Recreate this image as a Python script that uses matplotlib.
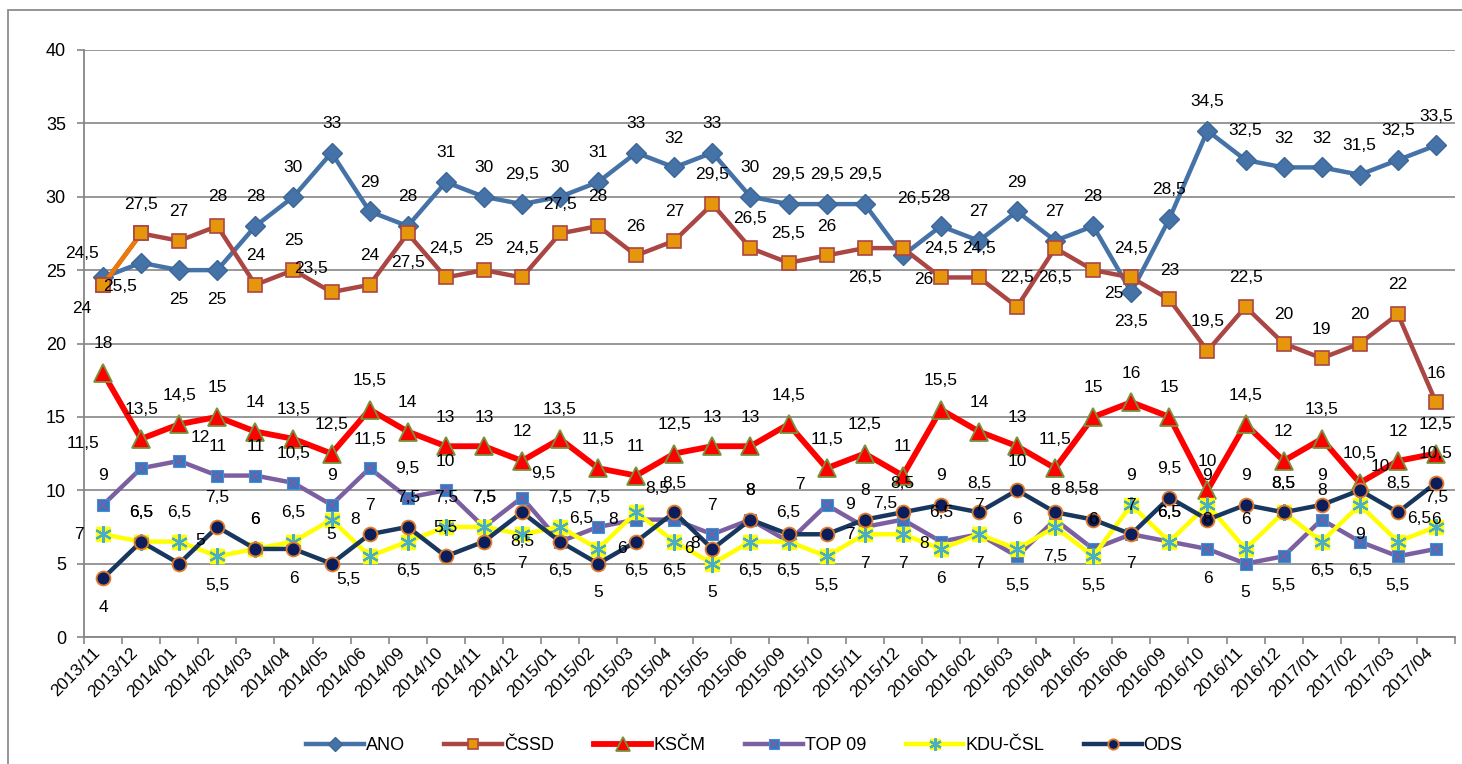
import matplotlib
matplotlib.use('Agg')
import matplotlib.pyplot as plt
from matplotlib.patches import Rectangle

plt.rcParams['font.family'] = ['Liberation Sans', 'DejaVu Sans']

months = ['2013/11', '2013/12', '2014/01', '2014/02', '2014/03', '2014/04', '2014/05', '2014/06',
          '2014/09', '2014/10', '2014/11', '2014/12', '2015/01', '2015/02', '2015/03', '2015/04',
          '2015/05', '2015/06', '2015/09', '2015/10', '2015/11', '2015/12', '2016/01', '2016/02',
          '2016/03', '2016/04', '2016/05', '2016/06', '2016/09', '2016/10', '2016/11', '2016/12',
          '2017/01', '2017/02', '2017/03', '2017/04']

ano = [24.5, 25.5, 25, 25, 28, 30, 33, 29, 28, 31, 30, 29.5, 30, 31, 33, 32, 33, 30,
       29.5, 29.5, 29.5, 26, 28, 27, 29, 27, 28, 23.5, 28.5, 34.5, 32.5, 32, 32, 31.5, 32.5, 33.5]
cssd = [24, 27.5, 27, 28, 24, 25, 23.5, 24, 27.5, 24.5, 25, 24.5, 27.5, 28, 26, 27, 29.5, 26.5,
        25.5, 26, 26.5, 26.5, 24.5, 24.5, 22.5, 26.5, 25, 24.5, 23, 19.5, 22.5, 20, 19, 20, 22, 16]
kscm = [18, 13.5, 14.5, 15, 14, 13.5, 12.5, 15.5, 14, 13, 13, 12, 13.5, 11.5, 11, 12.5, 13, 13,
        14.5, 11.5, 12.5, 11, 15.5, 14, 13, 11.5, 15, 16, 15, 10, 14.5, 12, 13.5, 10.5, 12, 12.5]
top09 = [9, 11.5, 12, 11, 11, 10.5, 9, 11.5, 9.5, 10, 7.5, 9.5, 6.5, 7.5, 8, 8, 7, 8,
         6.5, 9, 7.5, 8, 6.5, 7, 5.5, 8, 6, 7, 6.5, 6, 5, 5.5, 8, 6.5, 5.5, 6]
kdu = [7, 6.5, 6.5, 5.5, 6, 6.5, 8, 5.5, 6.5, 7.5, 7.5, 7, 7.5, 6, 8.5, 6.5, 5, 6.5,
       6.5, 5.5, 7, 7, 6, 7, 6, 7.5, 5.5, 9, 6.5, 9, 6, 8.5, 6.5, 9, 6.5, 7.5]
ods = [4, 6.5, 5, 7.5, 6, 6, 5, 7, 7.5, 5.5, 6.5, 8.5, 6.5, 5, 6.5, 8.5, 6, 8,
       7, 7, 8, 8.5, 9, 8.5, 10, 8.5, 8, 7, 9.5, 8, 9, 8.5, 9, 10, 8.5, 10.5]

# label placement (Excel labels were nudged by hand), default is above the point
OFFSETS = {'N': (0, 21), 'S': (0, -21), 'E': (17, 0), 'W': (-17, 0), 'NE': (15, 17),
           'NW': (-15, 17), 'SE': (15, -17), 'SW': (-15, -17), 'C': (0, 0),
           'N2': (8, 36), 'FW': (-42, 18)}
label_pos = {
    'ANO': {0: 'NW', 1: 'SW', 2: 'S', 3: 'S', 21: 'SE', 27: 'S'},
    'ČSSD': {0: 'SW', 6: 'NW', 8: 'S', 20: 'S', 21: 'N2', 25: 'S', 26: 'SE'},
    'KSČM': {},
    'TOP 09': {1: 'FW', 2: 'NE', 11: 'NE', 12: 'NE', 14: 'W', 15: 'SE', 19: 'E', 20: 'NE',
               21: 'SE', 24: 'S', 29: 'S', 30: 'S', 31: 'S', 33: 'S', 34: 'S'},
    'KDU-ČSL': {0: 'W', 3: 'S', 6: 'E', 7: 'SW', 8: 'S', 11: 'S', 13: 'E', 14: 'NE', 15: 'S',
                16: 'S', 17: 'S', 18: 'S', 19: 'S', 20: 'S', 21: 'S', 22: 'S', 23: 'S', 25: 'S',
                26: 'S', 32: 'S', 33: 'S', 34: 'NE'},
    'ODS': {0: 'S', 2: 'NE', 5: 'S', 10: 'S', 11: 'S', 12: 'S', 13: 'S', 14: 'S', 16: 'W',
            18: 'N2', 19: 'E', 25: 'NE', 27: 'S', 29: 'C', 33: 'NE'},
}

fig = plt.figure(figsize=(14.62, 7.64), dpi=100)
fig.patches.append(Rectangle((8 / 1462, -0.05), 1.1, 1 - 10 / 764 + 0.05, transform=fig.transFigure,
                             fill=False, ec='#8c8c8c', lw=1.3))
ax = fig.add_axes([84 / 1462, 1 - 637 / 764, (1455 - 84) / 1462, (637 - 50) / 764])

x = list(range(len(months)))
lw = 3.2

# main line + first marker, optional overlay marker
styles = [
    ('ANO', ano, dict(color='#4572A7', lw=lw, marker='D', ms=10, mfc='#4572A7', mec='#3D6797'), None),
    ('ČSSD', cssd, dict(color='#AA4643', lw=lw, marker='s', ms=9.5, mfc='#E6960A', mec='#AA4643', mew=1.2), None),
    ('KSČM', kscm, dict(color='#FF0000', lw=4.2, marker='^', ms=12.5, mfc='#FF0000', mec='#77933C', mew=1.3), None),
    ('TOP 09', top09, dict(color='#7B5FA0', lw=lw, marker='s', ms=9, mfc='#2B7BC8', mec='#4A90D0', mew=0.8),
     dict(marker='x', ms=7, mec='#7B5FA0', mew=1.3)),
    ('KDU-ČSL', kdu, dict(color='#FFFF00', lw=lw, marker='s', ms=10, mfc='#FFFF00', mec='#FFFF00'),
     dict(marker=(6, 2, 0), ms=12, mec='#4BACC6', mew=1.6)),
    ('ODS', ods, dict(color='#17375E', lw=lw, marker='o', ms=10, mfc='#0C1D5C', mec='#E07B2C', mew=1.3), None),
]

handles = []
for i, (name, vals, st, extra) in enumerate(styles):
    z = 3 + i
    h, = ax.plot(x, vals, zorder=z, **st)
    hh = h
    if extra is not None:
        o, = ax.plot(x, vals, ls='none', zorder=z + 0.1, **extra)
        hh = (h, o)
    if name == 'ČSSD':
        # Excel left the first segment of this series in orange
        ax.plot(x[:2], vals[:2], color='#EC7A08', lw=lw, zorder=z + 0.05)
        ax.plot(x[:2], vals[:2], ls='none', zorder=z + 0.1, **{k: v for k, v in st.items() if k not in ('color', 'lw')})
    handles.append(hh)

for name, vals, st, extra in styles:
    pos = label_pos[name]
    for i, v in enumerate(vals):
        dx, dy = OFFSETS[pos.get(i, 'N')]
        ax.annotate(f'{v:g}'.replace('.', ','), (i, v), xytext=(dx, dy), textcoords='offset points',
                    ha='center', va='center', fontsize=12.5, color='black', zorder=20)

ax.set_ylim(0, 40)
ax.set_yticks(range(0, 41, 5))
ax.set_xlim(-0.5, len(months) - 0.5)
ax.set_xticks([i - 0.5 for i in range(len(months) + 1)])
ax.set_xticklabels([])
ax.set_xticks(x, minor=True)
ax.set_xticklabels(months, minor=True, rotation=45, ha='right', va='top', fontsize=12.5)
ax.tick_params(axis='x', which='major', length=5, color='#868686', width=1.2)
ax.tick_params(axis='x', which='minor', length=0, pad=6)
ax.tick_params(axis='y', length=5, color='#868686', width=1.2, labelsize=13, pad=8)

ax.grid(axis='y', color='#868686', lw=1.2)
ax.set_axisbelow(True)
for s in ('top', 'right'):
    ax.spines[s].set_visible(False)
for s in ('left', 'bottom'):
    ax.spines[s].set_color('#868686')
    ax.spines[s].set_linewidth(1.3)

fig.legend(handles, [s[0] for s in styles], loc='center', bbox_to_anchor=(0.509, 0.024), ncol=6,
           frameon=False, fontsize=13, handlelength=3.2, handletextpad=0.1, columnspacing=2.2,
           numpoints=1, markerscale=0.75)

fig.savefig('out.png', dpi=100)
